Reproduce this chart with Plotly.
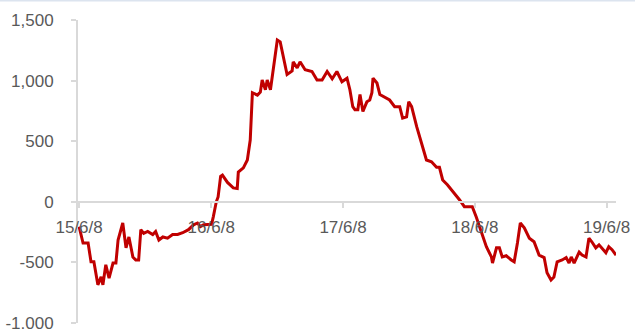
import plotly.graph_objects as go

dates = [
    "2015-06-08", "2015-06-19", "2015-07-03", "2015-07-11", "2015-07-19", "2015-07-30",
    "2015-08-08", "2015-08-13", "2015-08-21", "2015-08-30", "2015-09-10", "2015-09-18",
    "2015-09-24", "2015-10-07", "2015-10-16", "2015-10-24", "2015-11-04", "2015-11-12",
    "2015-11-20", "2015-11-26", "2015-12-04", "2015-12-15", "2015-12-29", "2016-01-06",
    "2016-01-15", "2016-01-26", "2016-02-08", "2016-02-22", "2016-03-07", "2016-03-21",
    "2016-04-06", "2016-04-20", "2016-05-01", "2016-05-09", "2016-05-18", "2016-06-01",
    "2016-06-09", "2016-06-14", "2016-06-22", "2016-06-27", "2016-07-04", "2016-07-09", "2016-07-23",
    "2016-08-08", "2016-08-19", "2016-08-22", "2016-09-05", "2016-09-16", "2016-09-24",
    "2016-09-30", "2016-10-14", "2016-10-22", "2016-10-27", "2016-11-05", "2016-11-10",
    "2016-11-19", "2016-11-24", "2016-12-02", "2016-12-08", "2016-12-16", "2016-12-30",
    "2017-01-04", "2017-01-18", "2017-01-21", "2017-02-01", "2017-02-09", "2017-02-23",
    "2017-03-14", "2017-03-28", "2017-04-11", "2017-04-25", "2017-05-09", "2017-05-22",
    "2017-06-05", "2017-06-19", "2017-06-27", "2017-07-05", "2017-07-11", "2017-07-19",
    "2017-07-25", "2017-08-02", "2017-08-13", "2017-08-21", "2017-08-27", "2017-08-30",
    "2017-09-10", "2017-09-18", "2017-10-02", "2017-10-15", "2017-10-29", "2017-11-12",
    "2017-11-20", "2017-12-01", "2017-12-07", "2017-12-15", "2017-12-29", "2018-01-12",
    "2018-01-25", "2018-02-08", "2018-02-22", "2018-03-02", "2018-03-11", "2018-03-24",
    "2018-04-04", "2018-04-13", "2018-04-21", "2018-04-27", "2018-05-10", "2018-06-01",
    "2018-06-12", "2018-06-26", "2018-07-10", "2018-07-24", "2018-07-27", "2018-08-07",
    "2018-08-15", "2018-08-23", "2018-09-03", "2018-09-17", "2018-09-25", "2018-10-04",
    "2018-10-12", "2018-10-23", "2018-11-06", "2018-11-19", "2018-12-03", "2018-12-17",
    "2018-12-25", "2019-01-05", "2019-01-13", "2019-01-22", "2019-02-05", "2019-02-16",
    "2019-02-24", "2019-03-02", "2019-03-10", "2019-03-24", "2019-04-01", "2019-04-12",
    "2019-04-20", "2019-04-28", "2019-05-09", "2019-05-18", "2019-05-26", "2019-06-06",
    "2019-06-14", "2019-06-23", "2019-07-04",
]

values = [
    -205, -340, -340, -495, -495, -685,
    -620, -685, -520, -630, -505, -505,
    -315, -175, -380, -290, -455, -480,
    -480, -230, -260, -245, -270, -245,
    -315, -290, -300, -270, -270, -255,
    -230, -190, -175, -205, -190, -190,
    -185, -120, 0, 40, 210, 220, 160,
    115, 110, 245, 280, 345, 510,
    900, 880, 905, 1005, 925, 1005,
    925, 1030, 1170, 1335, 1320, 1115,
    1050, 1080, 1155, 1105, 1155, 1090,
    1075, 1005, 1005, 1075, 1015, 1075,
    990, 1020, 925, 785, 760, 760,
    885, 745, 825, 840, 900, 1020,
    980, 885, 865, 840, 785, 785,
    690, 700, 825, 785, 620, 480,
    345, 330, 285, 285, 180, 140,
    100, 75, 40, 15, -40, -40,
    -125, -250, -370, -455, -505, -380,
    -380, -455, -445, -480, -495, -340,
    -175, -215, -300, -330, -440, -460,
    -585, -645, -620, -495, -480, -460,
    -505, -455, -505, -415, -440, -455,
    -300, -330, -380, -355, -380, -420,
    -370, -395, -440,
]

x_tick_vals = ["2015-06-08", "2016-06-08", "2017-06-08", "2018-06-08", "2019-06-08"]
x_tick_text = ["15/6/8", "16/6/8", "17/6/8", "18/6/8", "19/6/8"]
y_tick_vals = [-1000, -500, 0, 500, 1000, 1500]
y_tick_text = ["-1,000", "-500", "0", "500", "1,000", "1,500"]

fig = go.Figure()
fig.add_trace(go.Scatter(
    x=dates, y=values, mode="lines",
    line=dict(color="#C00000", width=3),
    showlegend=False,
))

axis_gray = "#D9D9D9"
font_gray = "#595959"

fig.update_layout(
    width=635, height=329,
    margin=dict(l=78, r=19, t=20, b=6, autoexpand=False),
    paper_bgcolor="white", plot_bgcolor="white",
    font=dict(family="Liberation Sans", size=17, color=font_gray),
    xaxis=dict(
        type="date",
        range=["2015-06-05", "2019-07-04"],
        tickvals=x_tick_vals, ticktext=x_tick_text,
        showgrid=False, zeroline=False,
        showline=True, linecolor=axis_gray, linewidth=2,
        ticks="outside", ticklen=5, tickcolor=axis_gray, tickwidth=2,
        anchor="free", position=0.4,
        ticklabelstandoff=5,
        automargin=False,
        tickfont=dict(size=17, color=font_gray),
    ),
    yaxis=dict(
        range=[-1000, 1500],
        tickvals=y_tick_vals, ticktext=y_tick_text,
        showgrid=False, zeroline=False,
        showline=True, linecolor=axis_gray, linewidth=2,
        ticks="outside", ticklen=5, tickcolor=axis_gray, tickwidth=2,
        ticklabelstandoff=14,
        ticklabeloverflow="allow",
        automargin=False,
        tickfont=dict(size=17, color=font_gray),
    ),
    shapes=[dict(
        type="line", xref="paper", yref="paper",
        x0=-0.2, x1=1.1, y0=1.064, y1=1.064,
        line=dict(color="#DCE4EF", width=2),
    )],
)

fig.write_html("out.html")
